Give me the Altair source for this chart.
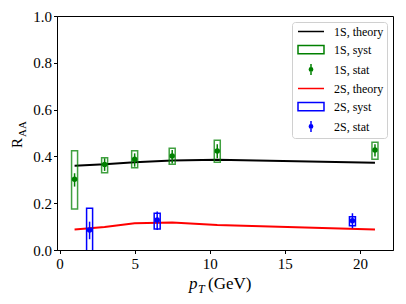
import altair as alt
import pandas as pd

# ---- data ----
x_1s = [1, 3, 5, 7.5, 10.5, 21]
r_1s = [0.302, 0.365, 0.388, 0.402, 0.423, 0.427]
stat_lo_1s = [0.271, 0.338, 0.356, 0.370, 0.392, 0.400]
stat_hi_1s = [0.328, 0.392, 0.413, 0.427, 0.452, 0.452]
syst_lo_1s = [0.175, 0.330, 0.352, 0.366, 0.375, 0.388]
syst_hi_1s = [0.424, 0.394, 0.424, 0.435, 0.469, 0.460]

x_2s = [2, 6.5, 19.5]
r_2s = [0.085, 0.128, 0.125]
stat_lo_2s = [0.046, 0.085, 0.093]
stat_hi_2s = [0.121, 0.165, 0.157]
syst_lo_2s = [-0.05, 0.090, 0.104]
syst_hi_2s = [0.178, 0.157, 0.142]

box_half = 0.2

x_theory = [1, 3, 5, 7.5, 10.5, 21]
th_1s = [0.360, 0.366, 0.375, 0.383, 0.386, 0.373]
th_2s = [0.088, 0.098, 0.114, 0.117, 0.107, 0.088]

legend_labels = ["1S, theory", "1S, syst", "1S, stat", "2S, theory", "2S, syst", "2S, stat"]
legend_colors = ["black", "green", "green", "red", "blue", "blue"]

y_ticks = [0.0, 0.2, 0.4, 0.6, 0.8, 1.0]
x_ticks = [0, 5, 10, 15, 20]

# ---- legend symbol paths (unit space, scaled by sqrt(size)/2) ----
L, R, C = -0.636, 4.09, 1.727
p_line = f"M{L},0H{R}"
p_rect = f"M{L},-0.75H{R}V0.75H{L}Z"
p_stat = (f"M{C},-1V1M{C-0.3},0A0.3,0.3 0 1,0 {C+0.3},0A0.3,0.3 0 1,0 {C-0.3},0"
          f"M{C-0.15},0A0.15,0.15 0 1,0 {C+0.15},0A0.15,0.15 0 1,0 {C-0.15},0")
legend_shapes = [p_line, p_rect, p_stat, p_line, p_rect, p_stat]

xscale = alt.Scale(domain=[-0.17, 22.2], nice=False, zero=False)
yscale = alt.Scale(domain=[0, 1], nice=False)

FONT = "Liberation Serif"

def series_layers(xs, r, slo, shi, ylo, yhi, xt, th, color, box_opacity):
    d = pd.DataFrame({"x": xs, "r": r, "slo": slo, "shi": shi, "ylo": ylo, "yhi": yhi,
                      "xl": [v - box_half for v in xs], "xr": [v + box_half for v in xs]})
    t = pd.DataFrame({"x": xt, "r": th})
    line = alt.Chart(t).mark_line(color="black" if color == "green" else "red", strokeWidth=2, clip=True).encode(
        x=alt.X("x:Q", scale=xscale,
                axis=alt.Axis(values=x_ticks, title=None, labelFont=FONT, labelFontSize=15)),
        y=alt.Y("r:Q", scale=yscale,
                axis=alt.Axis(values=y_ticks, format=".1f", title=None, labelFont=FONT, labelFontSize=15)),
    )
    box = alt.Chart(d).mark_rect(filled=False, stroke=color, strokeWidth=1.5,
                                 strokeOpacity=box_opacity, clip=True).encode(
        x="xl:Q", x2="xr:Q", y="ylo:Q", y2="yhi:Q")
    err = alt.Chart(d).mark_rule(color=color, strokeWidth=1.5, clip=True).encode(
        x="x:Q", y="slo:Q", y2="shi:Q")
    pts = alt.Chart(d).mark_circle(color=color, size=30, opacity=1, clip=True).encode(
        x="x:Q", y="r:Q")
    return [line, box, err, pts]

layers = []
layers += series_layers(x_1s, r_1s, stat_lo_1s, stat_hi_1s, syst_lo_1s, syst_hi_1s,
                        x_theory, th_1s, "green", 0.75)
layers += series_layers(x_2s, r_2s, stat_lo_2s, stat_hi_2s, syst_lo_2s, syst_hi_2s,
                        x_theory, th_2s, "blue", 1.0)

leg_df = pd.DataFrame({"label": legend_labels})
legend_layer = alt.Chart(leg_df).mark_point(filled=False, opacity=0).encode(
    shape=alt.Shape("label:N", scale=alt.Scale(domain=legend_labels, range=legend_shapes),
                    legend=alt.Legend(title=None, orient="top-right", labelFont=FONT)),
    color=alt.Color("label:N", scale=alt.Scale(domain=legend_labels, range=legend_colors),
                    legend=alt.Legend(title=None, orient="top-right", labelFont=FONT)),
)
layers.append(legend_layer)

# axis titles (with sub-scripts) as text
def txt(s, x, y, size, angle=0, style="normal", align="left"):
    return alt.Chart(pd.DataFrame({"t": [s]})).mark_text(
        font=FONT, fontSize=size, fontStyle=style, align=align, baseline="alphabetic",
        angle=angle, color="black").encode(text="t:N", x=alt.value(x), y=alt.value(y))

layers += [
    txt("R", -35, 132, 15, angle=270),
    txt("AA", -31.5, 121, 11, angle=270),
    txt("p", 132, 273, 17, style="italic"),
    txt("T", 141, 277, 12, style="italic"),
    txt("(GeV)", 151, 273, 17),
]

chart = alt.layer(*layers).properties(
    width=336, height=234,
    autosize=alt.AutoSizeParams(type="none"),
    padding={"left": 49, "top": 8, "right": 5, "bottom": 46},
).configure_view(stroke="black", strokeWidth=1).configure_axis(
    grid=False, domainColor="black", domainWidth=1, tickColor="black", tickSize=3.5,
    tickWidth=1, labelFont=FONT, labelFontSize=15, labelColor="black", labelPadding=2,
).configure_axisX(labelPadding=3).configure_legend(
    labelFont=FONT, labelFontSize=12, labelColor="black",
    strokeColor="#d0d0d0", fillColor="rgba(255,255,255,0.85)", cornerRadius=3,
    padding=3, offset=6, rowPadding=4, symbolSize=121, symbolStrokeWidth=1.5,
    labelOffset=26, symbolOpacity=1,
)

chart.save("out.html", embed_options={"renderer": "svg", "actions": False})
